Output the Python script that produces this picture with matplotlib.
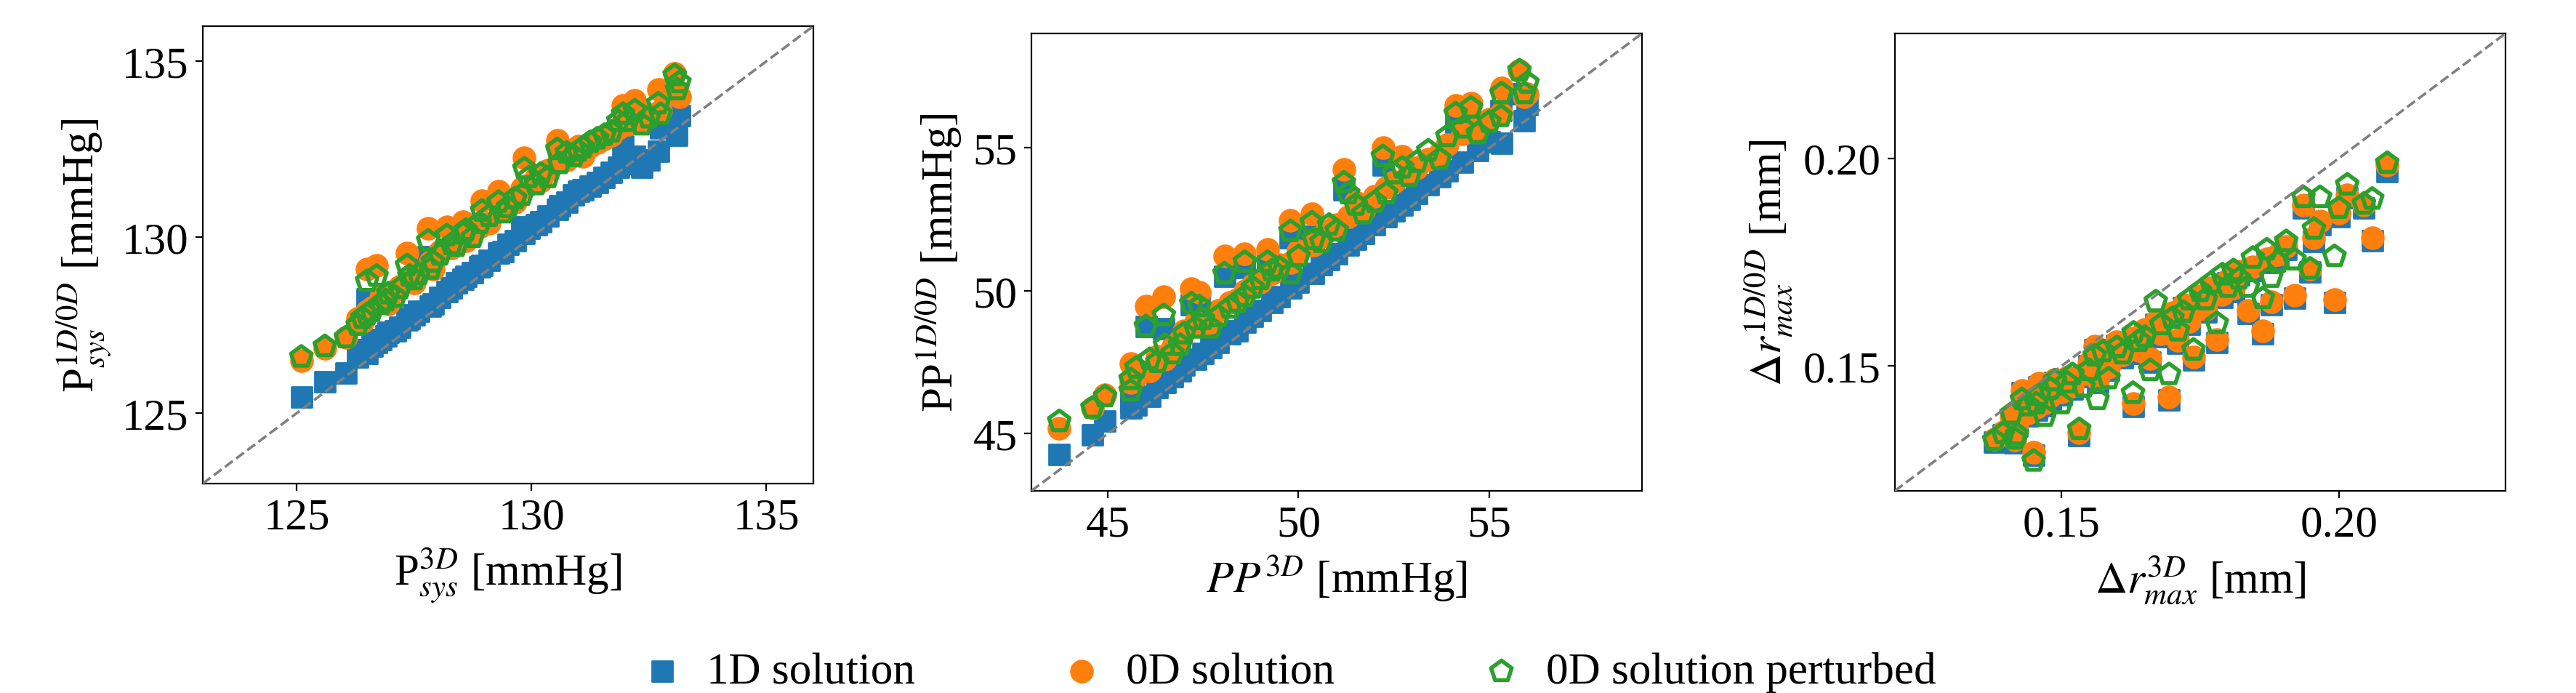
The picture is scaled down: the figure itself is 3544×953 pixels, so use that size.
import matplotlib
matplotlib.use('Agg')
import matplotlib.pyplot as plt

plt.rcParams['font.family'] = ['Liberation Serif', 'DejaVu Serif']
plt.rcParams['mathtext.fontset'] = 'stix'
plt.rcParams['font.size'] = 22

# --- systolic pressure [mmHg] ---
psys_3d = [125.1, 125.6, 126.05, 126.3, 126.4, 126.5, 126.5, 126.6, 126.7, 126.8,
           126.9, 126.95, 127.1, 127.2, 127.35, 127.4, 127.5, 127.6, 127.8, 127.85,
           127.9, 128.05, 128.2, 128.3, 128.4, 128.55, 128.6, 128.75, 128.9, 128.95,
           129.1, 129.3, 129.4, 129.5, 129.65, 129.8, 129.85, 129.95, 130.1, 130.2,
           130.35, 130.55, 130.6, 130.75, 130.9, 131.0, 131.1, 131.25, 131.4, 131.55,
           131.7, 131.85, 131.95, 132.05, 132.2, 132.35, 132.5, 132.7, 132.75, 133.05,
           133.1, 133.15]
psys_1d = [125.45, 125.9, 126.15, 126.6, 126.8, 128.25, 126.7, 126.9, 127.0, 127.1,
           127.2, 127.3, 127.35, 127.45, 127.65, 127.7, 127.8, 127.9, 129.45, 128.05,
           128.1, 128.3, 128.45, 128.55, 128.7, 128.8, 128.9, 129.0, 129.15, 129.2,
           129.35, 129.55, 129.6, 129.8, 129.9, 130.3, 130.1, 130.25, 130.35, 130.45,
           130.6, 130.8, 130.9, 131.0, 131.2, 131.3, 131.35, 131.45, 131.55, 131.7,
           131.85, 132.0, 132.6, 132.1, 132.3, 132.0, 132.2, 132.45, 133.1, 133.5,
           132.9, 133.45]
psys_0d = [126.5, 126.85, 127.15, 127.7, 127.6, 129.1, 127.9, 128.0, 129.2, 128.3,
           128.4, 128.1, 128.5, 128.6, 129.55, 128.8, 128.7, 129.0, 130.25, 129.3,
           129.1, 129.6, 130.3, 129.7, 129.9, 130.45, 129.9, 130.2, 130.3, 131.05,
           130.4, 131.3, 130.8, 130.9, 131.0, 131.4, 132.25, 131.5, 131.7, 131.6,
           131.9, 132.75, 132.3, 132.2, 132.4, 132.6, 132.3, 132.6, 132.7, 132.8,
           132.9, 133.1, 133.75, 133.2, 133.9, 133.3, 133.5, 134.2, 133.6, 134.65,
           134.1, 134.0]
psys_0d_pert = [126.6, 126.9, 127.15, 127.5, 127.7, 128.75, 127.8, 127.9, 128.9, 128.1,
                128.2, 128.4, 128.3, 128.55, 129.2, 128.9, 128.8, 128.95, 129.9, 129.1,
                129.3, 129.5, 130.05, 129.8, 129.75, 130.1, 130.2, 130.0, 130.4, 130.75,
                130.6, 131.0, 130.7, 130.85, 131.1, 131.2, 131.95, 131.7, 131.5, 131.8,
                131.7, 132.5, 132.1, 132.4, 132.3, 132.45, 132.55, 132.7, 132.8, 132.9,
                133.0, 133.3, 133.5, 133.3, 133.6, 133.2, 133.4, 133.8, 133.5, 134.6,
                134.2, 134.4]

# --- pulse pressure [mmHg] ---
pp_3d = [43.73, 44.6, 44.93, 45.6, 45.6, 45.75, 46.0, 46.1, 46.3, 46.47,
         46.5, 46.7, 46.9, 47.0, 47.19, 47.3, 47.4, 47.5, 47.7, 47.9,
         48.06, 48.2, 48.4, 48.59, 48.6, 48.8, 49.0, 49.19, 49.3, 49.5,
         49.79, 49.8, 50.0, 50.35, 50.4, 50.6, 50.8, 51.0, 51.19, 51.3,
         51.5, 51.7, 52.0, 52.21, 52.3, 52.5, 52.72, 52.9, 53.1, 53.4,
         53.7, 53.9, 54.12, 54.3, 54.52, 54.7, 55.0, 55.32, 55.3, 55.79,
         55.92, 56.0]
pp_1d = [44.28, 44.97, 45.43, 45.9, 46.1, 46.0, 48.75, 46.3, 46.6, 48.68,
         46.8, 47.0, 47.2, 47.4, 49.5, 47.6, 49.4, 47.8, 48.0, 48.2,
         50.5, 48.5, 48.6, 50.8, 48.9, 49.1, 49.3, 50.9, 49.6, 49.8,
         51.85, 50.1, 50.3, 51.9, 50.6, 50.9, 51.1, 51.3, 53.54, 51.6,
         51.8, 52.0, 52.3, 54.4, 52.6, 52.8, 53.0, 53.2, 53.4, 53.7,
         54.0, 54.2, 55.8, 54.5, 55.9, 54.9, 55.2, 55.16, 56.3, 56.9,
         55.94, 56.5]
pp_0d = [45.2, 45.9, 46.37, 47.44, 46.8, 47.0, 49.45, 47.2, 47.7, 49.8,
         47.6, 48.0, 48.3, 48.6, 50.07, 48.9, 49.95, 48.8, 48.9, 49.3,
         51.22, 49.6, 49.7, 51.3, 50.0, 50.2, 50.3, 51.45, 50.6, 50.9,
         52.46, 51.0, 51.4, 52.69, 51.6, 51.9, 52.1, 52.3, 54.24, 52.6,
         53.1, 52.8, 53.3, 55.0, 53.6, 53.8, 54.7, 54.2, 54.3, 54.6,
         54.8, 55.1, 56.47, 55.5, 56.55, 55.7, 56.0, 57.09, 56.2, 57.7,
         56.78, 56.9]
pp_0d_pert = [45.43, 45.9, 46.3, 46.9, 46.5, 47.3, 48.75, 47.6, 47.5, 49.14,
              48.1, 47.8, 48.1, 48.5, 49.55, 48.7, 49.45, 49.0, 48.7, 49.1,
              50.6, 49.4, 49.6, 51.0, 49.8, 50.1, 50.4, 51.0, 50.7, 50.8,
              52.08, 50.6, 51.2, 52.38, 51.8, 51.7, 52.3, 52.1, 53.78, 53.4,
              53.0, 52.7, 53.1, 54.7, 53.4, 54.1, 54.3, 54.0, 54.5, 54.9,
              54.6, 55.4, 56.2, 55.7, 56.4, 55.5, 55.9, 56.9, 56.1, 57.7,
              56.9, 57.27]

# --- max radius change [mm] ---
dr_3d = [0.1379, 0.1395, 0.1410, 0.1416, 0.1420, 0.1429, 0.1440, 0.1450, 0.1455, 0.1460,
         0.1470, 0.1480, 0.1488, 0.1500, 0.1510, 0.1520, 0.1532, 0.1540, 0.1550, 0.1560,
         0.1565, 0.1575, 0.1585, 0.1600, 0.1610, 0.1629, 0.1630, 0.1640, 0.1650, 0.1660,
         0.1670, 0.1680, 0.1694, 0.1700, 0.1710, 0.1720, 0.1730, 0.1738, 0.1750, 0.1760,
         0.1770, 0.1780, 0.1790, 0.1800, 0.1810, 0.1820, 0.1836, 0.1845, 0.1863, 0.1870,
         0.1878, 0.1890, 0.1905, 0.1920, 0.1936, 0.1948, 0.1955, 0.1966, 0.1992, 0.2000,
         0.2015, 0.2045, 0.2060, 0.2087]
dr_1d = [0.1318, 0.1335, 0.1370, 0.1315, 0.1355, 0.1436, 0.1380, 0.1286, 0.1395, 0.1450,
         0.1405, 0.1420, 0.1460, 0.1430, 0.1465, 0.1445, 0.1333, 0.1475, 0.1500, 0.1540,
         0.1460, 0.1510, 0.1490, 0.1550, 0.1520, 0.1403, 0.1560, 0.1530, 0.1580, 0.1510,
         0.1600, 0.1570, 0.1419, 0.1620, 0.1555, 0.1640, 0.1600, 0.1514, 0.1660, 0.1630,
         0.1680, 0.1557, 0.1665, 0.1700, 0.1680, 0.1720, 0.1626, 0.1730, 0.1578, 0.1750,
         0.1647, 0.1760, 0.1780, 0.1663, 0.1880, 0.1727, 0.1800, 0.1840, 0.1653, 0.1860,
         0.1905, 0.1880, 0.1802, 0.1968]
dr_0d = [0.1325, 0.1342, 0.1377, 0.1322, 0.1362, 0.1442, 0.1388, 0.1293, 0.1402, 0.1458,
         0.1412, 0.1428, 0.1467, 0.1438, 0.1472, 0.1452, 0.1340, 0.1482, 0.1508, 0.1548,
         0.1468, 0.1518, 0.1497, 0.1558, 0.1527, 0.1410, 0.1567, 0.1538, 0.1588, 0.1518,
         0.1608, 0.1577, 0.1426, 0.1628, 0.1562, 0.1648, 0.1608, 0.1521, 0.1668, 0.1637,
         0.1688, 0.1564, 0.1672, 0.1708, 0.1688, 0.1728, 0.1633, 0.1738, 0.1585, 0.1758,
         0.1654, 0.1768, 0.1787, 0.1670, 0.1888, 0.1734, 0.1808, 0.1848, 0.1660, 0.1868,
         0.1912, 0.1888, 0.1809, 0.1984]
dr_0d_pert = [0.1322, 0.1338, 0.1385, 0.1325, 0.1335, 0.1420, 0.1405, 0.1272, 0.1410, 0.1430,
              0.1380, 0.1445, 0.1465, 0.1410, 0.1460, 0.1480, 0.1348, 0.1450, 0.1490, 0.1525,
              0.1420, 0.1535, 0.1470, 0.1545, 0.1530, 0.1435, 0.1580, 0.1560, 0.1570, 0.1490,
              0.1655, 0.1600, 0.1480, 0.1615, 0.1585, 0.1630, 0.1660, 0.1539, 0.1680, 0.1660,
              0.1700, 0.1603, 0.1720, 0.1690, 0.1730, 0.1710, 0.1690, 0.1760, 0.1663, 0.1780,
              0.1714, 0.1750, 0.1800, 0.1756, 0.1906, 0.1734, 0.1830, 0.1906, 0.1764, 0.1880,
              0.1936, 0.1890, 0.1902, 0.1988]

panels = [
    (psys_3d, psys_1d, psys_0d, psys_0d_pert, (123, 136), [125, 130, 135],
     r'P$_{sys}^{3D}$ [mmHg]', r'P$_{sys}^{1D/0D}$ [mmHg]', [0.0787, 0.3019]),
    (pp_3d, pp_1d, pp_0d, pp_0d_pert, (43, 59), [45, 50, 55],
     r'$PP^{3D}$ [mmHg]', r'PP$^{1D/0D}$ [mmHg]', [0.4004, 0.2914]),
    (dr_3d, dr_1d, dr_0d, dr_0d_pert, (0.12, 0.23), [0.15, 0.20],
     r'$\Delta r_{max}^{3D}$ [mm]', r'$\Delta r_{max}^{1D/0D}$ [mm]', [0.7356, 0.2914]),
]

fig = plt.figure(figsize=(17.72, 4.77), dpi=200)

for x3d, y1d, y0d, y0p, lims, ticks, xlab, ylab, pos in panels:
    ax = fig.add_axes([pos[0], pos[1], 0.2370, 0.6593])
    ax.scatter(x3d, y1d, marker='s', s=105, color='tab:blue', label='1D solution', zorder=2)
    ax.scatter(x3d, y0d, marker='o', s=115, color='tab:orange', label='0D solution', zorder=3)
    ax.scatter(x3d, y0p, marker='p', s=115, facecolors='none', edgecolors='tab:green',
               linewidths=2.0, label='0D solution perturbed', zorder=4)
    ax.plot(lims, lims, '--', color='gray', lw=1.3, zorder=5)
    ax.set_xlim(lims)
    ax.set_ylim(lims)
    ax.set_xticks(ticks)
    ax.set_yticks(ticks)
    ax.set_xlabel(xlab)
    ax.set_ylabel(ylab)
    handles, labels = ax.get_legend_handles_labels()

fig.legend(handles, labels, loc='center', bbox_to_anchor=(0.5, 0.03), ncol=3,
           frameon=False, handlelength=1.0, handletextpad=0.5, columnspacing=3.25)

fig.savefig('out.png', dpi=200)
